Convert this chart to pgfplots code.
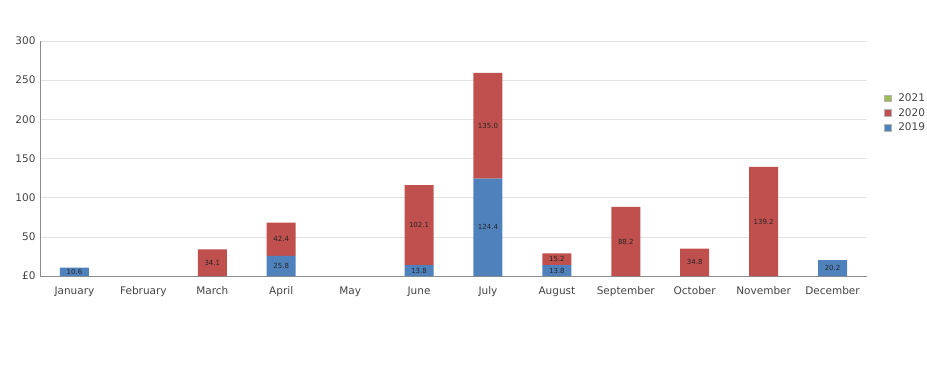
\documentclass[border=0pt]{standalone}
\usepackage{pgfplots}
\pgfplotsset{compat=1.18}
\usepackage{fontspec}
\setmainfont{DejaVu Sans}
\definecolor{c19}{HTML}{4F81BD}
\definecolor{c20}{HTML}{C0504D}
\definecolor{c21}{HTML}{9BBB59}
\definecolor{tickc}{HTML}{444444}
\begin{document}
\begin{tikzpicture}
\useasboundingbox (0,0) rectangle (927pt,368pt);
\pgfplotsset{base/.style={
  at={(40pt,92pt)}, anchor=south west, scale only axis, width=827pt, height=235pt,
  xmin=-0.5, xmax=11.5, ymin=0, ymax=300}}
\begin{axis}[base, ybar stacked, bar width=29pt,
  axis x line*=bottom, axis y line*=left,
  axis line style={draw=gray!90, line width=0.8pt},
  ymajorgrids, grid style={draw=gray!22, line width=0.6pt},
  xtick={0,...,11},
  xticklabels={January,February,March,April,May,June,July,August,September,October,November,December},
  ytick={0,50,...,300}, yticklabels={£0,50,100,150,200,250,300},
  major tick length=0pt,
  tick label style={font=\fontsize{10.5}{12}\selectfont, text=tickc},
  yticklabel style={xshift=-1pt},
  xticklabel style={yshift=-7pt},
  reverse legend,
  legend style={at={(1.017,0.694)}, anchor=west, draw=none, fill=none,
    font=\fontsize{10.5}{12}\selectfont, text=tickc, row sep=1.5pt,
    /tikz/every even column/.append style={column sep=0pt}},
  legend cell align=left,
]
\addplot[fill=c19, draw=none,
  legend image code/.code={\draw[fill=c19,draw=gray!60] (0pt,-3.3pt) rectangle (6.6pt,3.3pt);}]
  coordinates {(0,10.6) (1,0) (2,0) (3,25.8) (4,0) (5,13.8) (6,124.4) (7,13.8) (8,0) (9,0) (10,0) (11,20.2)};
\addlegendentry{\hspace{5pt}2019}
\addplot[fill=c20, draw=none,
  legend image code/.code={\draw[fill=c20,draw=gray!60] (0pt,-3.3pt) rectangle (6.6pt,3.3pt);}]
  coordinates {(0,0) (1,0) (2,34.1) (3,42.4) (4,0) (5,102.1) (6,135.0) (7,15.2) (8,88.2) (9,34.8) (10,139.2) (11,0)};
\addlegendentry{\hspace{5pt}2020}
\addlegendimage{legend image code/.code={\draw[fill=c21,draw=gray!60] (0pt,-3.3pt) rectangle (6.6pt,3.3pt);}}
\addlegendentry{\hspace{5pt}2021}
\end{axis}
\begin{axis}[base, hide axis]
\addplot[draw=none, mark=none, nodes near coords, point meta=explicit symbolic,
  nodes near coords align={center},
  every node near coord/.append style={anchor=center, font=\fontsize{7}{8}\selectfont, text=black!85}]
  coordinates {(0,5.3)[10.6] (3,12.9)[25.8] (5,6.9)[13.8] (6,62.2)[124.4] (7,6.9)[13.8] (11,10.1)[20.2]
  (2,17.05)[34.1] (3,47.0)[42.4] (5,64.85)[102.1] (6,191.9)[135.0] (7,21.4)[15.2] (8,44.1)[88.2] (9,17.4)[34.8] (10,69.6)[139.2]};
\end{axis}
\end{tikzpicture}
\end{document}
